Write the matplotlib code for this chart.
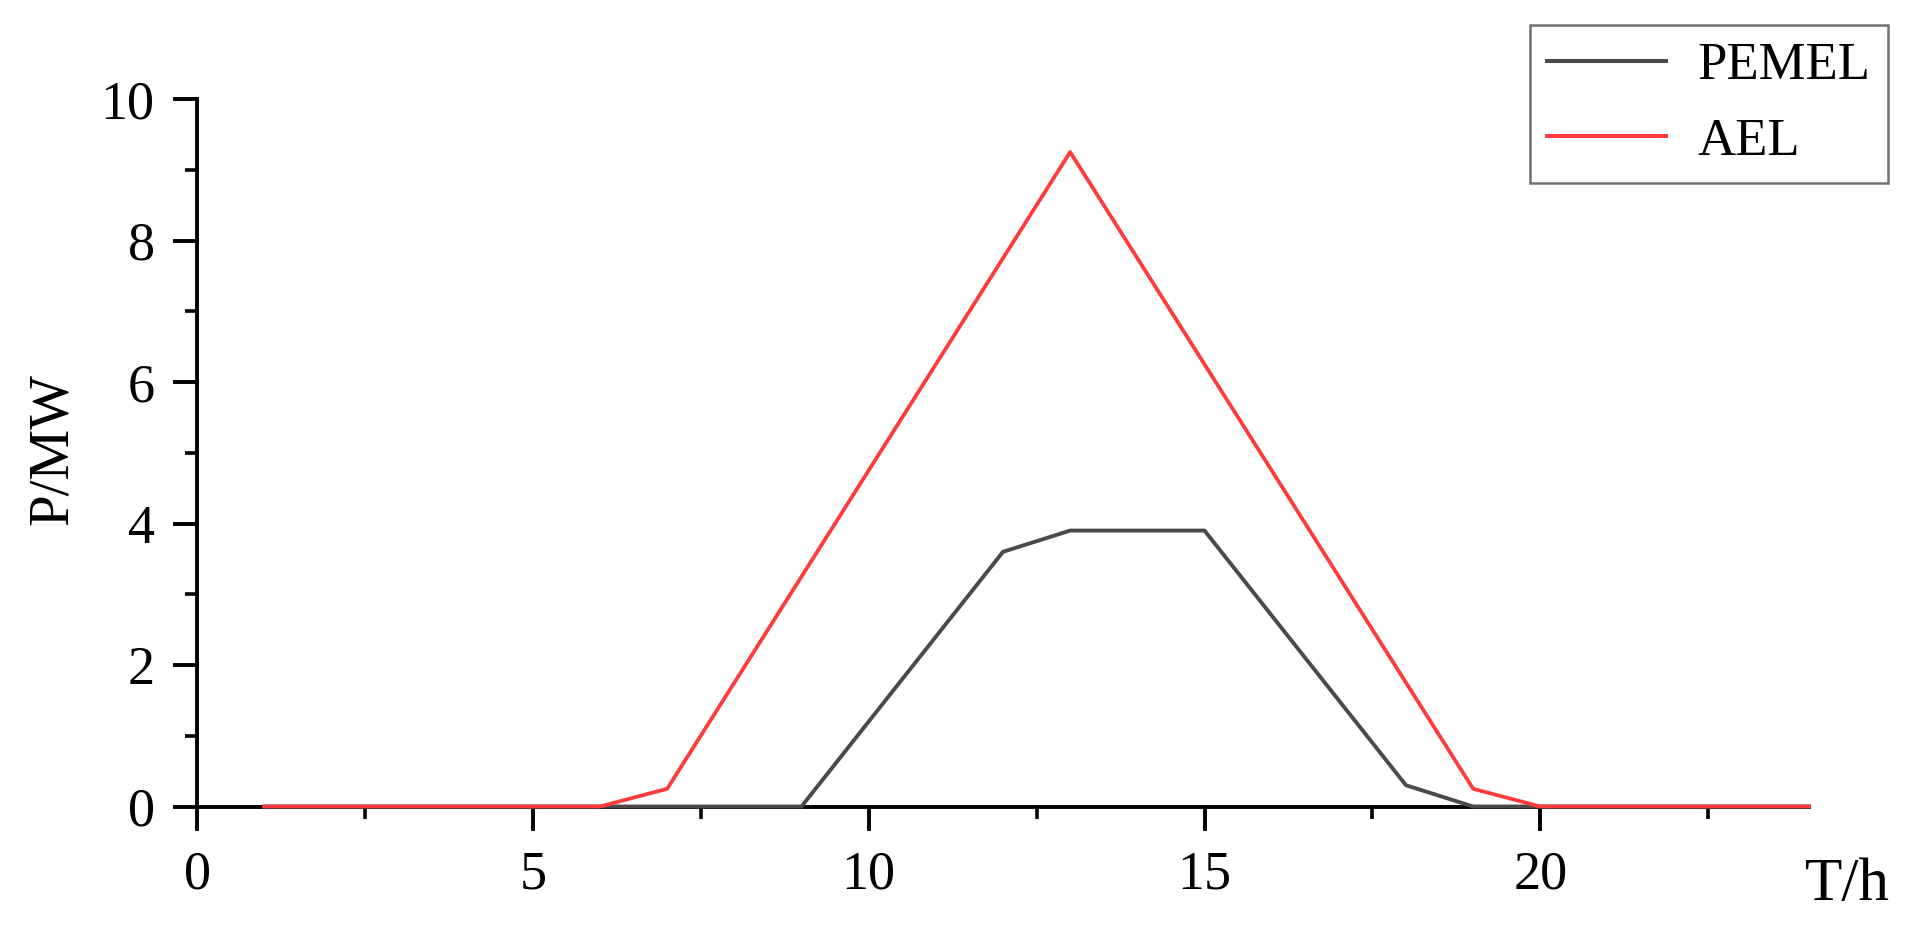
import matplotlib
matplotlib.use("Agg")
import matplotlib.pyplot as plt
from matplotlib.ticker import MultipleLocator

plt.rcParams['font.family'] = ['Liberation Serif', 'DejaVu Serif']

hours = list(range(1, 25))
pemel = [0, 0, 0, 0, 0, 0, 0, 0, 0, 1.2, 2.4, 3.6, 3.9, 3.9, 3.9, 2.7, 1.5, 0.3,
         0, 0, 0, 0, 0, 0]
ael = [0, 0, 0, 0, 0, 0, 0.25, 1.75, 3.25, 4.75, 6.25, 7.75, 9.25, 7.75, 6.25,
       4.75, 3.25, 1.75, 0.25, 0, 0, 0, 0, 0]
series_names = ["PEMEL", "AEL"]
x_label = "T/h"
y_label = "P/MW"

fig = plt.figure(figsize=(19.19, 9.42), dpi=100)
W, H = 1919, 942
left, right, top, bottom = 197, 1809, 99, 806.5
ax = fig.add_axes([left / W, 1 - bottom / H, (right - left) / W, (bottom - top) / H])

ax.plot(hours, pemel, color='#4a4a4a', lw=2.8, label=series_names[0], zorder=3, clip_on=False)
ax.plot(hours, ael, color='#FF3A3A', lw=2.7, label=series_names[1], zorder=3, clip_on=False)

ax.set_xlim(0, 24)
ax.set_ylim(0, 10)
ax.xaxis.set_major_locator(MultipleLocator(5))
ax.xaxis.set_minor_locator(MultipleLocator(2.5))
ax.yaxis.set_major_locator(MultipleLocator(2))
ax.yaxis.set_minor_locator(MultipleLocator(1))

for s in ['top', 'right']:
    ax.spines[s].set_visible(False)
for s in ['left', 'bottom']:
    ax.spines[s].set_linewidth(2.8)
    ax.spines[s].set_color('black')

ax.tick_params(axis='both', which='major', direction='out', length=17.5, width=2.8,
               labelsize=39, colors='black')
ax.tick_params(axis='both', which='minor', direction='out', length=8.5, width=2.6)
ax.tick_params(axis='y', which='major', pad=13)
ax.tick_params(axis='x', which='major', pad=14)

ax.set_xlabel(x_label, fontsize=44)
ax.set_ylabel(y_label, fontsize=41)
ax.xaxis.set_label_coords(1.024, -0.112)
ax.xaxis.label.set_va('center')
ax.yaxis.set_label_coords(-0.0895, 0.505)
ax.yaxis.label.set_va('center')

leg = ax.legend(loc='upper right', bbox_to_anchor=(1888 / W, 1 - 25 / H),
                bbox_transform=fig.transFigure, fontsize=38, frameon=True,
                fancybox=False, edgecolor='#707070', framealpha=1,
                handlelength=2.25, handletextpad=0.6, labelspacing=0.52,
                borderpad=0.33, borderaxespad=0)
leg.get_frame().set_linewidth(1.8)
for line in leg.get_lines():
    line.set_linewidth(2.9)

fig.savefig("out.png", dpi=100)
